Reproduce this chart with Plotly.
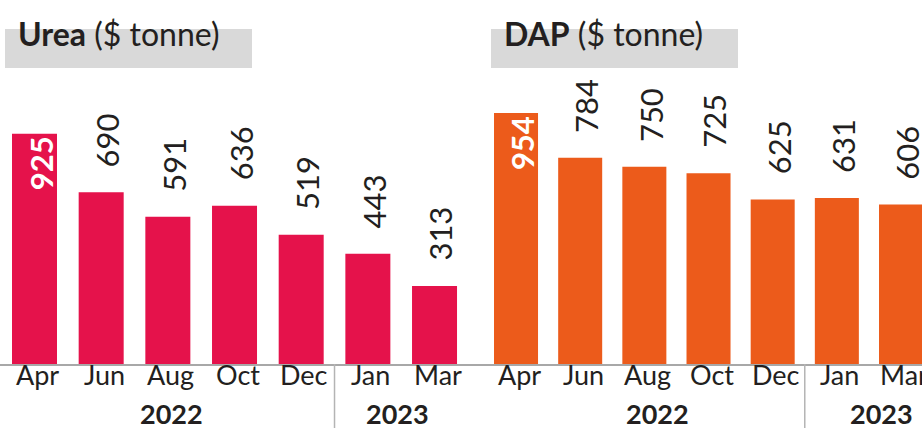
import plotly.graph_objects as go

W, H = 922, 428

months = ["Apr", "Jun", "Aug", "Oct", "Dec", "Jan", "Mar"]
years = ["2022", "2023"]
urea = [925, 690, 591, 636, 519, 443, 313]
dap = [954, 784, 750, 725, 625, 631, 606]

FONT = "Lato"
INK = "#231f20"


def fx(p):
    # pixel -> paper x
    return p / W


def fy(p):
    # pixel (from top) -> paper y
    return 1 - p / H


panels = [
    dict(name="Urea", vals=urea, color="#e5124b", ax="x", yax="y",
         dom=(0, 460), rng=(-0.5175, 6.382), ymax=1462,
         box=(5, 252), bw=0.675, year_x=(2.05, 5.45), sep=4.5),
    dict(name="DAP", vals=dap, color="#ec5b1b", ax="x2", yax="y2",
         dom=(460, 922), rng=(-0.873, 6.327), ymax=1384,
         box=(491, 738), bw=0.686, year_x=(2.2, 5.7), sep=4.5),
]

fig = go.Figure()
shapes = []
annotations = []

for i, p in enumerate(panels):
    fig.add_trace(go.Bar(
        x=list(range(len(months))), y=p["vals"], width=p["bw"],
        marker=dict(color=p["color"], line=dict(width=0)),
        xaxis=p["ax"], yaxis=p["yax"], showlegend=False, hoverinfo="skip",
    ))

    # grey heading box
    shapes.append(dict(type="rect", xref="paper", yref="paper",
                       x0=fx(p["box"][0]), x1=fx(p["box"][1]),
                       y0=fy(68), y1=fy(29), fillcolor="#d9d9d9",
                       line=dict(width=0), layer="below"))
    annotations.append(dict(
        xref="paper", yref="paper", x=fx(p["box"][0] + 11), y=fy(33),
        xanchor="left", yanchor="middle", showarrow=False,
        text=f"<b>{p['name']}</b> ($ tonne)",
        font=dict(family=FONT, size=32, color=INK)))

    # separator between the two years
    shapes.append(dict(type="line", xref=p["ax"], yref="paper",
                       x0=p["sep"], x1=p["sep"], y0=0, y1=fy(364),
                       line=dict(color="#b4b4b4", width=1.5)))

    # value labels, rotated
    for j, v in enumerate(p["vals"]):
        first = j == 0
        annotations.append(dict(
            xref=p["ax"], yref=p["yax"], x=j, y=v, showarrow=False,
            textangle=-90, xanchor="center",
            yanchor="top" if first else "bottom",
            yshift=-1 if first else 23, xshift=6,
            text=f"<b>{v}</b>" if first else str(v),
            font=dict(family=FONT, size=31,
                      color="white" if first else INK)))

    # month labels
    for j, m in enumerate(months):
        annotations.append(dict(
            xref=p["ax"], yref="paper", x=j, y=fy(374), xshift=3,
            xanchor="center", yanchor="middle", showarrow=False, text=m,
            font=dict(family=FONT, size=27, color=INK)))

    # year labels
    for yx, yr in zip(p["year_x"], years):
        annotations.append(dict(
            xref=p["ax"], yref="paper", x=yx, y=fy(413),
            xanchor="center", yanchor="middle", showarrow=False,
            text=f"<b>{yr}</b>",
            font=dict(family=FONT, size=27, color=INK)))

axis_common = dict(showgrid=False, zeroline=False, showticklabels=False,
                   ticks="", fixedrange=True)

layout = dict(
    width=W, height=H,
    margin=dict(l=0, r=0, t=0, b=0),
    paper_bgcolor="white", plot_bgcolor="rgba(0,0,0,0)",
    shapes=shapes, annotations=annotations,
)
for i, p in enumerate(panels):
    xk = "xaxis" if i == 0 else "xaxis2"
    yk = "yaxis" if i == 0 else "yaxis2"
    layout[xk] = dict(axis_common, domain=[fx(p["dom"][0]), fx(p["dom"][1])],
                      range=list(p["rng"]), anchor=p["yax"],
                      showline=True, linecolor="#a8a8a8", linewidth=1.5)
    layout[yk] = dict(axis_common, domain=[fy(364), 1],
                      range=[0, p["ymax"]], anchor=p["ax"], showline=False)

fig.update_layout(**layout)
# the page's default body margin would push the figure 8px off
fig.write_html("out.html", config={"displayModeBar": False},
               post_script="document.body.style.margin='0';")
